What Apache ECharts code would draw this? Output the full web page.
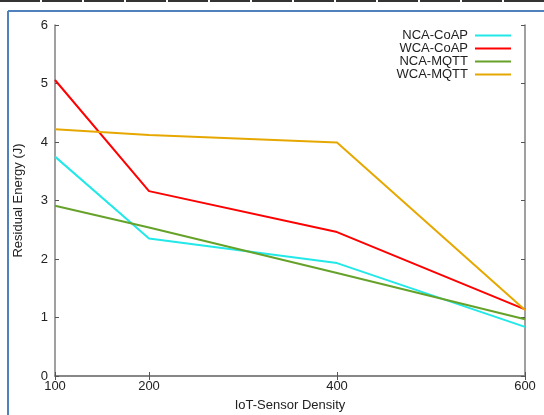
<!DOCTYPE html>
<html><head><meta charset="utf-8">
<script src="https://cdn.jsdelivr.net/npm/echarts@6/dist/echarts.min.js"></script>
<style>html,body{margin:0;padding:0;background:#fff}#c{width:544px;height:415px}</style>
</head><body><div id="c"></div>
<script>
const xValues = [100, 200, 400, 600];
const xTicks = [100, 200, 400, 600];
const yTicks = [0, 1, 2, 3, 4, 5, 6];
const seriesNames = ['NCA-CoAP', 'WCA-CoAP', 'NCA-MQTT', 'WCA-MQTT'];
const ncaCoap = [3.75, 2.35, 1.93, 0.84];
const wcaCoap = [5.06, 3.16, 2.46, 1.14];
const ncaMqtt = [2.91, 2.54, 1.76, 0.97];
const wcaMqtt = [4.22, 4.12, 3.99, 1.13];
const colors = ['#22e8e8', '#ff0000', '#66a22a', '#e6a800'];
const values = [ncaCoap, wcaCoap, ncaMqtt, wcaMqtt];

const chart = echarts.init(document.getElementById('c'));
const font = 'Liberation Sans, Arial, sans-serif';
const axisLine = {show: true, lineStyle: {color: '#808080', width: 1.5}};
chart.setOption({
  animation: false,
  color: colors,
  grid: {left: 55, right: 19, top: 25, bottom: 39, outerBoundsMode: 'none', containLabel: false},
  legend: {
    right: 28, top: 24, orient: 'vertical', align: 'right',
    icon: 'rect', itemWidth: 36, itemHeight: 2, itemGap: 0,
    textStyle: {fontFamily: font, fontSize: 13, color: '#222', lineHeight: 12.7, padding: [0, 2, 0, 0]},
    data: seriesNames
  },
  xAxis: [{
    type: 'value', min: 100, max: 600, position: 'bottom',
    name: 'IoT-Sensor Density', nameLocation: 'middle', nameGap: 23,
    nameTextStyle: {fontFamily: font, fontSize: 13, color: '#222'},
    axisLine: axisLine,
    axisTick: {show: true, inside: true, length: 4, customValues: xTicks, lineStyle: {color: '#555'}},
    axisLabel: {customValues: xTicks, fontFamily: font, fontSize: 13, color: '#222', margin: 4},
    splitLine: {show: false}
  }, {
    type: 'value', min: 100, max: 600, position: 'top',
    axisLine: axisLine,
    axisTick: {show: true, inside: true, length: 4, customValues: xTicks, lineStyle: {color: '#555'}},
    axisLabel: {show: false}, splitLine: {show: false}
  }],
  yAxis: [{
    type: 'value', min: 0, max: 6, interval: 1, position: 'left',
    name: 'Residual Energy (J)', nameLocation: 'middle', nameGap: 30, nameRotate: 90,
    nameTextStyle: {fontFamily: font, fontSize: 13, color: '#222'},
    axisLine: axisLine,
    axisTick: {show: true, inside: true, length: 4, lineStyle: {color: '#555'}},
    axisLabel: {fontFamily: font, fontSize: 13, color: '#222', margin: 7},
    splitLine: {show: false}
  }, {
    type: 'value', min: 0, max: 6, interval: 1, position: 'right',
    axisLine: axisLine,
    axisTick: {show: true, inside: true, length: 4, lineStyle: {color: '#555'}},
    axisLabel: {show: false}, splitLine: {show: false}
  }],
  graphic: [
    {type: 'line', shape: {x1: 0, y1: 1, x2: 544, y2: 1}, style: {stroke: '#333', lineWidth: 2, lineDash: [40, 2]}, silent: true},
    {type: 'line', shape: {x1: 8, y1: 11, x2: 544, y2: 11}, style: {stroke: '#4f81bd', lineWidth: 2}, silent: true},
    {type: 'line', shape: {x1: 8, y1: 11, x2: 8, y2: 415}, style: {stroke: '#4f81bd', lineWidth: 2}, silent: true}
  ],
  series: seriesNames.map((n, i) => ({
    name: n, type: 'line', showSymbol: false, symbol: 'none',
    lineStyle: {width: 2, color: colors[i]},
    itemStyle: {color: colors[i]},
    data: xValues.map((x, j) => [x, values[i][j]])
  }))
});
</script></body></html>
